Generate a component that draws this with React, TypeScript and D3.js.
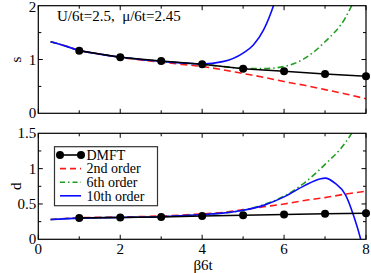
import React, { useEffect, useRef } from "react";
import * as d3 from "d3";

// beta*6t grid for the perturbation curves
const dmftX = [1, 2, 3, 4, 5, 6, 7, 8];
const dmftS = [1.164, 1.041, 0.972, 0.91, 0.829, 0.781, 0.731, 0.688];
const dmftD = [0.3, 0.31, 0.315, 0.33, 0.34, 0.35, 0.36, 0.37];

const s2X = [0.3, 0.5, 1, 1.5, 2, 2.5, 3, 3.5, 4, 4.5, 5, 5.5, 6, 6.5, 7, 7.5, 8];
const s2Y = [1.33, 1.29, 1.17, 1.1, 1.04, 0.99, 0.95, 0.91, 0.87, 0.81, 0.74, 0.67, 0.59, 0.52, 0.44, 0.36, 0.27];

const s6X = [0.3, 0.5, 1, 1.5, 2, 2.5, 3, 3.5, 4, 4.5, 5, 5.5, 6, 6.5, 7, 7.5, 7.65, 7.8];
const s6Y = [1.33, 1.29, 1.17, 1.1, 1.045, 1.0, 0.965, 0.935, 0.91, 0.87, 0.835, 0.83, 0.87, 1.02, 1.33, 1.78, 2.0, 2.25];

const s10X = [0.3, 0.5, 1, 1.5, 2, 2.5, 3, 3.5, 4, 4.5, 5, 5.25, 5.5, 5.75, 5.9];
const s10Y = [1.33, 1.29, 1.17, 1.1, 1.045, 1.0, 0.965, 0.935, 0.915, 0.96, 1.12, 1.27, 1.55, 2.02, 2.4];

const d2X = [0.3, 1, 2, 3, 4, 4.5, 5, 5.5, 6, 6.5, 7, 7.5, 8];
const d2Y = [0.28, 0.305, 0.315, 0.33, 0.36, 0.38, 0.42, 0.46, 0.5, 0.55, 0.59, 0.64, 0.68];

const d6X = [0.3, 1, 2, 3, 4, 4.5, 5, 5.5, 6, 6.5, 7, 7.5, 7.65, 7.8];
const d6Y = [0.28, 0.3, 0.31, 0.32, 0.35, 0.37, 0.41, 0.49, 0.61, 0.8, 1.06, 1.37, 1.5, 1.65];

const d10X = [0.3, 1, 2, 3, 4, 4.5, 5, 5.5, 6, 6.5, 6.75, 7, 7.25, 7.5, 7.7, 7.87, 7.95];
const d10Y = [0.28, 0.3, 0.31, 0.32, 0.35, 0.37, 0.41, 0.48, 0.6, 0.76, 0.83, 0.865, 0.79, 0.63, 0.33, 0.0, -0.2];

const xTicks = [0, 2, 4, 6, 8];
const sTicks = [0, 1, 2];
const dTicks = [0, 0.5, 1, 1.5];
const dTickLabels = ["0", "0.5", "1", "1.5"];

const legendLabels = ["DMFT", "2nd order", "6th order", "10th order"];

const RED = "#ff1a1a";
const GREEN = "#1f9f1f";
const BLUE = "#0b0bff";
const FONT = "'Times New Roman', Times, Tinos, 'Liberation Serif', 'DejaVu Serif', 'Noto Serif', serif";

function App() {
    const chartRef = useRef(null);

    useEffect(() => {
        const left = 38.3;
        const right = 366;

        const svg = d3.select(chartRef.current);
        svg.selectAll("*").remove();

        const x = d3.scaleLinear().domain([0, 8]).range([left, right]);
        const yS = d3.scaleLinear().domain([0, 2]).range([113.3, 5.7]);
        const yD = d3.scaleLinear().domain([0, 1.5]).range([239.3, 133.3]);

        const zip = (xs, ys) => xs.map((v, i) => [v, ys[i]]);

        const label = (sel, size = 15) =>
            sel.attr("font-family", FONT).attr("font-size", size).attr("fill", "#000");

        function panel(id, clipTop, clipBottom) {
            const g = svg.append("g");
            svg.append("clipPath").attr("id", id)
                .append("rect")
                .attr("x", left).attr("y", clipTop)
                .attr("width", right - left).attr("height", clipBottom - clipTop);

            // minor and major x ticks, bottom and top
            d3.range(0, 9).forEach(v => {
                const len = v % 2 === 0 ? 4.5 : 3;
                g.append("line").attr("x1", x(v)).attr("x2", x(v))
                    .attr("y1", clipBottom).attr("y2", clipBottom - len)
                    .attr("stroke", "#000");
                g.append("line").attr("x1", x(v)).attr("x2", x(v))
                    .attr("y1", clipTop).attr("y2", clipTop + len)
                    .attr("stroke", "#000");
            });
            return g;
        }

        function yTickMarks(g, y, values, major) {
            values.forEach(v => {
                const len = major(v) ? 4.5 : 3;
                g.append("line").attr("x1", left).attr("x2", left + len)
                    .attr("y1", y(v)).attr("y2", y(v)).attr("stroke", "#000");
                g.append("line").attr("x1", right).attr("x2", right - len)
                    .attr("y1", y(v)).attr("y2", y(v)).attr("stroke", "#000");
            });
        }

        function curve(y, clip, pts, color, dash) {
            const line = d3.line()
                .x(d => x(d[0]))
                .y(d => y(d[1]))
                .curve(d3.curveMonotoneX);
            svg.append("path")
                .attr("d", line(pts))
                .attr("clip-path", `url(#${clip})`)
                .attr("fill", "none")
                .attr("stroke", color)
                .attr("stroke-width", 1.6)
                .attr("stroke-dasharray", dash);
        }

        function dmft(y, ys) {
            const pts = zip(dmftX, ys);
            svg.append("path")
                .attr("d", d3.line().x(d => x(d[0])).y(d => y(d[1]))(pts))
                .attr("fill", "none").attr("stroke", "#000").attr("stroke-width", 1.5);
            svg.selectAll(null).data(pts).enter().append("circle")
                .attr("cx", d => x(d[0])).attr("cy", d => y(d[1]))
                .attr("r", 4).attr("fill", "#000");
        }

        // top panel: s
        const gS = panel("clipS", yS(2), yS(0));
        yTickMarks(gS, yS, [0.5, 1, 1.5], v => Number.isInteger(v));
        curve(yS, "clipS", zip(s2X, s2Y), RED, "7,4");
        curve(yS, "clipS", zip(s6X, s6Y), GREEN, "6,3,1.5,3");
        curve(yS, "clipS", zip(s10X, s10Y), BLUE, null);
        dmft(yS, dmftS);
        svg.append("rect").attr("x", left).attr("y", yS(2))
            .attr("width", right - left).attr("height", yS(0) - yS(2))
            .attr("fill", "none").attr("stroke", "#000").attr("stroke-width", 1.2);
        label(svg.selectAll(null).data(sTicks).enter().append("text")
            .attr("x", left - 2).attr("y", d => Math.max(yS(d) + 5, 12))
            .attr("text-anchor", "end")
            .text(d => d));
        label(svg.append("text")
            .attr("transform", `translate(21,${yS(1)}) rotate(-90)`)
            .attr("text-anchor", "middle")
            .text("s"));
        label(svg.append("text")
            .attr("x", 57).attr("y", 21)
            .attr("xml:space", "preserve")
            .text("U/6t=2.5,  \u03bc/6t=2.45"));

        // bottom panel: d
        const gD = panel("clipD", yD(1.5), yD(0));
        yTickMarks(gD, yD, [0.25, 0.5, 0.75, 1, 1.25], v => v % 0.5 === 0);
        curve(yD, "clipD", zip(d2X, d2Y), RED, "7,4");
        curve(yD, "clipD", zip(d6X, d6Y), GREEN, "6,3,1.5,3");
        curve(yD, "clipD", zip(d10X, d10Y), BLUE, null);
        dmft(yD, dmftD);
        svg.append("rect").attr("x", left).attr("y", yD(1.5))
            .attr("width", right - left).attr("height", yD(0) - yD(1.5))
            .attr("fill", "none").attr("stroke", "#000").attr("stroke-width", 1.2);
        label(svg.selectAll(null).data(dTicks).enter().append("text")
            .attr("x", left - 2).attr("y", d => yD(d) + 5)
            .attr("text-anchor", "end")
            .text((d, i) => dTickLabels[i]));
        label(svg.selectAll(null).data(xTicks).enter().append("text")
            .attr("x", d => x(d)).attr("y", 253.5)
            .attr("text-anchor", "middle")
            .text(d => d));
        label(svg.append("text")
            .attr("transform", `translate(21,${yD(0.75)}) rotate(-90)`)
            .attr("text-anchor", "middle")
            .text("d"));
        label(svg.append("text")
            .attr("x", x(4) + 1).attr("y", 269.5)
            .attr("text-anchor", "middle")
            .text("\u03b26t"));

        // legend
        const lg = svg.append("g");
        lg.append("rect").attr("x", 54.5).attr("y", 146.7).attr("width", 103).attr("height", 59)
            .attr("fill", "#fff").attr("stroke", "#333").attr("stroke-width", 1.2);
        const styles = [
            { color: "#000", dash: null },
            { color: RED, dash: "6,4" },
            { color: GREEN, dash: "5,3,1.5,3" },
            { color: BLUE, dash: null },
        ];
        legendLabels.forEach((name, i) => {
            const yy = 155 + i * 13.6;
            lg.append("line").attr("x1", 60).attr("x2", 81).attr("y1", yy).attr("y2", yy)
                .attr("stroke", styles[i].color).attr("stroke-width", 1.6)
                .attr("stroke-dasharray", styles[i].dash);
            if (i === 0) {
                [60, 81].forEach(cx => lg.append("circle").attr("cx", cx).attr("cy", yy).attr("r", 4).attr("fill", "#000"));
            }
            label(lg.append("text").attr("x", 86.5).attr("y", yy + 4.8)
                .text(name), 14);
        });
    }, []);

    return (
        <svg ref={chartRef} width={371} height={273}
            style={{ position: "absolute", left: 0, top: 0, background: "#fff" }} />
    );
}

export default App;
